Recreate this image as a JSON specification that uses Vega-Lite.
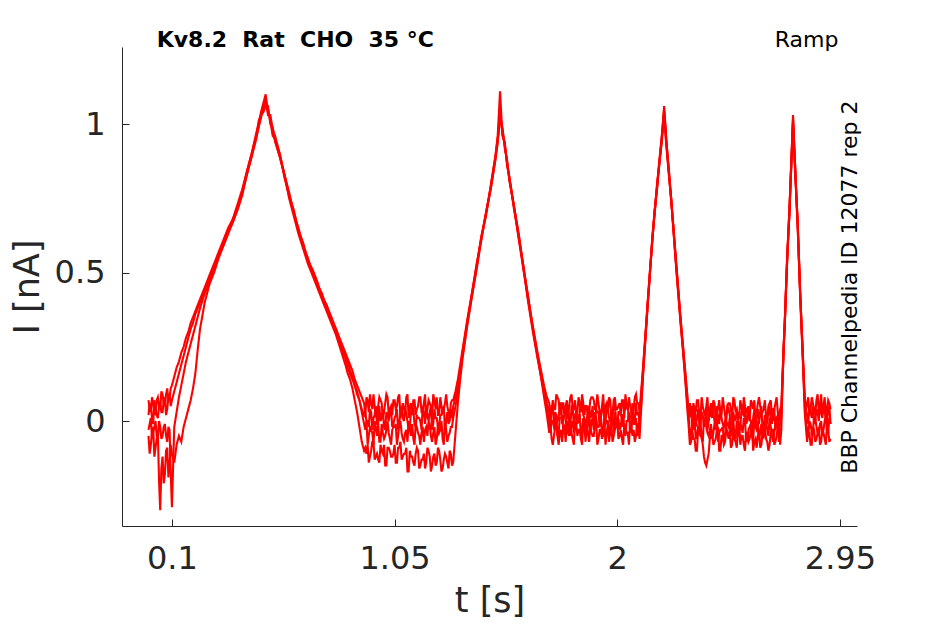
{
"$schema":"https://vega.github.io/schema/vega-lite/v6.json",
"width":735,"height":479,
"autosize":"none",
"padding":{"left":122,"top":47,"right":88,"bottom":98},
"background":"white",
"config":{"view":{"stroke":null},"font":"DejaVu Sans"},
"layer":[
{
"data":{"values":[
{"t":0,"a":0.07,"b":0.02,"c":-0.03,"d":-0.05},
{"t":0.01,"a":0.03,"b":0.05,"c":0.01,"d":-0.08},
{"t":0.02,"a":0.06,"b":-0.01,"c":-0.04,"d":-0.02},
{"t":0.03,"a":0.02,"b":0.04,"c":0,"d":-0.09},
{"t":0.04,"a":0.08,"b":0.01,"c":-0.06,"d":-0.04},
{"t":0.05,"a":0.04,"b":0.06,"c":-0.02,"d":-0.3},
{"t":0.06,"a":0.09,"b":0.03,"c":-0.05,"d":-0.12},
{"t":0.07,"a":0.05,"b":0.08,"c":-0.01,"d":-0.18},
{"t":0.08,"a":0.11,"b":0.04,"c":-0.07,"d":-0.09},
{"t":0.09,"a":0.08,"b":0.09,"c":-0.03,"d":-0.15},
{"t":0.1,"a":0.12,"b":0.07,"c":-0.29,"d":-0.11},
{"t":0.11,"a":0.15,"b":0.1,"c":-0.02,"d":-0.14},
{"t":0.12,"a":0.18,"b":0.13,"c":0.03,"d":-0.08},
{"t":0.13,"a":0.2,"b":0.16,"c":0.08,"d":-0.05},
{"t":0.14,"a":0.23,"b":0.19,"c":0.12,"d":-0.07},
{"t":0.15,"a":0.25,"b":0.22,"c":0.16,"d":-0.02},
{"t":0.16,"a":0.28,"b":0.25,"c":0.2,"d":0.01},
{"t":0.17,"a":0.3,"b":0.28,"c":0.23,"d":0.04},
{"t":0.18,"a":0.33,"b":0.31,"c":0.26,"d":0.07},
{"t":0.19,"a":0.35,"b":0.33,"c":0.29,"d":0.11},
{"t":0.2,"a":0.37,"b":0.36,"c":0.32,"d":0.16},
{"t":0.21,"a":0.39,"b":0.38,"c":0.35,"d":0.24},
{"t":0.22,"a":0.41,"b":0.4,"c":0.38,"d":0.31},
{"t":0.24,"a":0.45,"b":0.44,"c":0.43,"d":0.4},
{"t":0.26,"a":0.49,"b":0.48,"c":0.47,"d":0.46},
{"t":0.28,"a":0.53,"b":0.52,"c":0.51,"d":0.5},
{"t":0.3,"a":0.57,"b":0.56,"c":0.56,"d":0.55},
{"t":0.32,"a":0.61,"b":0.6,"c":0.6,"d":0.59},
{"t":0.34,"a":0.65,"b":0.64,"c":0.64,"d":0.63},
{"t":0.36,"a":0.68,"b":0.68,"c":0.67,"d":0.67},
{"t":0.38,"a":0.73,"b":0.72,"c":0.72,"d":0.71},
{"t":0.4,"a":0.78,"b":0.77,"c":0.77,"d":0.76},
{"t":0.42,"a":0.84,"b":0.84,"c":0.83,"d":0.83},
{"t":0.44,"a":0.9,"b":0.9,"c":0.89,"d":0.89},
{"t":0.46,"a":0.97,"b":0.96,"c":0.96,"d":0.95},
{"t":0.47,"a":1,"b":1.01,"c":0.99,"d":0.99},
{"t":0.48,"a":1.04,"b":1.03,"c":1.02,"d":1.03},
{"t":0.49,"a":1.07,"b":1.05,"c":1.06,"d":1.04},
{"t":0.5,"a":1.1,"b":1.07,"c":1.08,"d":1.06},
{"t":0.51,"a":1.04,"b":1.06,"c":1.03,"d":1.05},
{"t":0.52,"a":1.02,"b":1,"c":1.03,"d":1.01},
{"t":0.53,"a":0.97,"b":0.99,"c":0.98,"d":0.96},
{"t":0.54,"a":0.95,"b":0.94,"c":0.96,"d":0.95},
{"t":0.56,"a":0.9,"b":0.89,"c":0.9,"d":0.89},
{"t":0.58,"a":0.83,"b":0.83,"c":0.82,"d":0.83},
{"t":0.6,"a":0.76,"b":0.77,"c":0.76,"d":0.75},
{"t":0.62,"a":0.7,"b":0.7,"c":0.71,"d":0.69},
{"t":0.64,"a":0.64,"b":0.65,"c":0.64,"d":0.63},
{"t":0.66,"a":0.59,"b":0.59,"c":0.6,"d":0.58},
{"t":0.68,"a":0.54,"b":0.55,"c":0.54,"d":0.53},
{"t":0.7,"a":0.5,"b":0.5,"c":0.51,"d":0.49},
{"t":0.72,"a":0.46,"b":0.46,"c":0.47,"d":0.45},
{"t":0.74,"a":0.42,"b":0.43,"c":0.42,"d":0.41},
{"t":0.76,"a":0.39,"b":0.38,"c":0.39,"d":0.37},
{"t":0.78,"a":0.35,"b":0.35,"c":0.34,"d":0.33},
{"t":0.8,"a":0.31,"b":0.3,"c":0.31,"d":0.29},
{"t":0.82,"a":0.27,"b":0.25,"c":0.26,"d":0.24},
{"t":0.84,"a":0.23,"b":0.21,"c":0.22,"d":0.19},
{"t":0.85,"a":0.21,"b":0.18,"c":0.2,"d":0.16},
{"t":0.86,"a":0.19,"b":0.16,"c":0.17,"d":0.14},
{"t":0.87,"a":0.17,"b":0.14,"c":0.15,"d":0.11},
{"t":0.88,"a":0.14,"b":0.12,"c":0.12,"d":0.07},
{"t":0.89,"a":0.12,"b":0.09,"c":0.1,"d":0.03},
{"t":0.9,"a":0.1,"b":0.07,"c":0.07,"d":-0.02},
{"t":0.91,"a":0.08,"b":0.04,"c":0.03,"d":-0.07},
{"t":0.92,"a":0.06,"b":0.02,"c":-0.01,"d":-0.1},
{"t":0.93,"a":0.08,"b":0,"c":0,"d":-0.11},
{"t":0.94,"a":0.03,"b":-0.02,"c":-0.05,"d":-0.14},
{"t":0.95,"a":0.06,"b":0.03,"c":-0.03,"d":-0.1},
{"t":0.96,"a":0.09,"b":0.01,"c":-0.08,"d":-0.07},
{"t":0.97,"a":0.02,"b":0.05,"c":-0.02,"d":-0.12},
{"t":0.98,"a":0.05,"b":-0.01,"c":-0.01,"d":-0.13},
{"t":0.99,"a":0.07,"b":0,"c":-0.07,"d":-0.08},
{"t":1,"a":0.01,"b":0.04,"c":-0.04,"d":-0.11},
{"t":1.01,"a":0.06,"b":-0.03,"c":-0.05,"d":-0.15},
{"t":1.02,"a":0.08,"b":0.02,"c":0,"d":-0.09},
{"t":1.03,"a":0.04,"b":0.03,"c":-0.06,"d":-0.1},
{"t":1.04,"a":0.02,"b":-0.02,"c":-0.03,"d":-0.12},
{"t":1.05,"a":0.07,"b":0.01,"c":-0.02,"d":-0.08},
{"t":1.06,"a":0.05,"b":0.04,"c":-0.08,"d":-0.14},
{"t":1.07,"a":0.09,"b":-0.01,"c":-0.01,"d":-0.09},
{"t":1.08,"a":0.03,"b":0.05,"c":-0.04,"d":-0.13},
{"t":1.09,"a":0.04,"b":0,"c":-0.07,"d":-0.11},
{"t":1.1,"a":0.08,"b":0.02,"c":-0.03,"d":-0.09},
{"t":1.11,"a":0.01,"b":-0.03,"c":0,"d":-0.17},
{"t":1.12,"a":0.06,"b":0.03,"c":-0.05,"d":-0.12},
{"t":1.13,"a":0.07,"b":0.04,"c":-0.06,"d":-0.14},
{"t":1.14,"a":0.02,"b":-0.02,"c":-0.01,"d":-0.11},
{"t":1.15,"a":0.05,"b":0.01,"c":-0.04,"d":-0.1},
{"t":1.16,"a":0.08,"b":0,"c":-0.08,"d":-0.15},
{"t":1.17,"a":0.03,"b":0.05,"c":-0.02,"d":-0.13},
{"t":1.18,"a":0.09,"b":-0.01,"c":-0.03,"d":-0.16},
{"t":1.19,"a":0.04,"b":0.02,"c":-0.05,"d":-0.09},
{"t":1.2,"a":0.06,"b":0.03,"c":-0.01,"d":-0.12},
{"t":1.21,"a":0.01,"b":-0.03,"c":-0.07,"d":-0.15},
{"t":1.22,"a":0.07,"b":0.04,"c":-0.02,"d":-0.11},
{"t":1.23,"a":0.08,"b":0.01,"c":-0.06,"d":-0.14},
{"t":1.24,"a":0.02,"b":-0.02,"c":-0.04,"d":-0.1},
{"t":1.25,"a":0.05,"b":0.02,"c":0,"d":-0.17},
{"t":1.26,"a":0.04,"b":0.05,"c":-0.08,"d":-0.13},
{"t":1.27,"a":0.09,"b":0,"c":-0.03,"d":-0.12},
{"t":1.28,"a":0.03,"b":-0.01,"c":-0.05,"d":-0.16},
{"t":1.29,"a":0.06,"b":0.04,"c":-0.02,"d":-0.11},
{"t":1.3,"a":0.07,"b":0.05,"c":0.01,"d":-0.14},
{"t":1.31,"a":0.1,"b":0.08,"c":0.05,"d":-0.04},
{"t":1.32,"a":0.14,"b":0.12,"c":0.1,"d":0.06},
{"t":1.33,"a":0.19,"b":0.17,"c":0.16,"d":0.14},
{"t":1.34,"a":0.24,"b":0.23,"c":0.22,"d":0.21},
{"t":1.36,"a":0.34,"b":0.33,"c":0.33,"d":0.32},
{"t":1.38,"a":0.43,"b":0.43,"c":0.42,"d":0.42},
{"t":1.4,"a":0.52,"b":0.53,"c":0.52,"d":0.51},
{"t":1.42,"a":0.62,"b":0.61,"c":0.62,"d":0.61},
{"t":1.44,"a":0.7,"b":0.7,"c":0.69,"d":0.7},
{"t":1.46,"a":0.79,"b":0.78,"c":0.79,"d":0.78},
{"t":1.47,"a":0.84,"b":0.83,"c":0.84,"d":0.83},
{"t":1.48,"a":0.89,"b":0.88,"c":0.89,"d":0.88},
{"t":1.49,"a":0.95,"b":0.94,"c":0.96,"d":0.94},
{"t":1.5,"a":1.04,"b":1.02,"c":1.11,"d":1.03},
{"t":1.51,"a":0.97,"b":0.99,"c":0.96,"d":0.98},
{"t":1.52,"a":0.93,"b":0.92,"c":0.94,"d":0.93},
{"t":1.53,"a":0.87,"b":0.88,"c":0.86,"d":0.87},
{"t":1.54,"a":0.82,"b":0.81,"c":0.82,"d":0.81},
{"t":1.56,"a":0.72,"b":0.72,"c":0.71,"d":0.72},
{"t":1.58,"a":0.62,"b":0.63,"c":0.62,"d":0.61},
{"t":1.6,"a":0.52,"b":0.51,"c":0.52,"d":0.51},
{"t":1.62,"a":0.41,"b":0.42,"c":0.41,"d":0.4},
{"t":1.64,"a":0.32,"b":0.31,"c":0.31,"d":0.3},
{"t":1.66,"a":0.23,"b":0.22,"c":0.22,"d":0.21},
{"t":1.67,"a":0.19,"b":0.18,"c":0.17,"d":0.17},
{"t":1.68,"a":0.15,"b":0.14,"c":0.13,"d":0.12},
{"t":1.69,"a":0.11,"b":0.1,"c":0.09,"d":0.07},
{"t":1.7,"a":0.08,"b":0.06,"c":0.04,"d":0.02},
{"t":1.71,"a":0.06,"b":0.03,"c":0,"d":-0.04},
{"t":1.72,"a":0.03,"b":0.05,"c":0,"d":-0.06},
{"t":1.73,"a":0.04,"b":-0.01,"c":-0.02,"d":-0.05},
{"t":1.74,"a":0.09,"b":0.02,"c":0.02,"d":-0.01},
{"t":1.75,"a":0.07,"b":0.01,"c":-0.04,"d":-0.08},
{"t":1.76,"a":0.02,"b":0.06,"c":0.01,"d":-0.03},
{"t":1.77,"a":0.06,"b":0,"c":-0.03,"d":-0.02},
{"t":1.78,"a":0.05,"b":0.03,"c":-0.01,"d":-0.07},
{"t":1.79,"a":0.01,"b":0.04,"c":0.03,"d":-0.04},
{"t":1.8,"a":0.08,"b":-0.02,"c":-0.05,"d":-0.01},
{"t":1.81,"a":0.04,"b":0.05,"c":0,"d":-0.06},
{"t":1.82,"a":0.07,"b":0.02,"c":-0.02,"d":0},
{"t":1.83,"a":0.03,"b":-0.01,"c":0.01,"d":-0.05},
{"t":1.84,"a":0.06,"b":0.03,"c":0.02,"d":-0.03},
{"t":1.85,"a":0.09,"b":0.06,"c":-0.03,"d":-0.08},
{"t":1.86,"a":0.02,"b":0.01,"c":-0.01,"d":-0.02},
{"t":1.87,"a":0.05,"b":0,"c":-0.04,"d":-0.01},
{"t":1.88,"a":0.03,"b":0.05,"c":0.03,"d":-0.07},
{"t":1.89,"a":0.08,"b":0.02,"c":0,"d":-0.04},
{"t":1.9,"a":0.07,"b":-0.02,"c":-0.03,"d":-0.05},
{"t":1.91,"a":0.04,"b":0.04,"c":0.01,"d":0},
{"t":1.92,"a":0.06,"b":0.03,"c":-0.02,"d":-0.06},
{"t":1.93,"a":0.01,"b":0.01,"c":0.02,"d":-0.03},
{"t":1.94,"a":0.09,"b":0.05,"c":-0.05,"d":-0.02},
{"t":1.95,"a":0.05,"b":-0.01,"c":-0.01,"d":-0.08},
{"t":1.96,"a":0.03,"b":0.04,"c":0,"d":-0.01},
{"t":1.97,"a":0.07,"b":0,"c":-0.04,"d":-0.04},
{"t":1.98,"a":0.02,"b":0.02,"c":0.01,"d":-0.07},
{"t":1.99,"a":0.08,"b":0.06,"c":0.03,"d":-0.03},
{"t":2,"a":0.04,"b":-0.02,"c":-0.02,"d":0},
{"t":2.01,"a":0.06,"b":0.03,"c":-0.03,"d":-0.05},
{"t":2.02,"a":0.07,"b":0.01,"c":0.02,"d":-0.06},
{"t":2.03,"a":0.01,"b":0.04,"c":-0.03,"d":-0.01},
{"t":2.04,"a":0.05,"b":0.05,"c":0,"d":-0.04},
{"t":2.05,"a":0.08,"b":0,"c":0.03,"d":-0.08},
{"t":2.06,"a":0.03,"b":0.02,"c":-0.04,"d":-0.02},
{"t":2.07,"a":0.04,"b":-0.01,"c":-0.01,"d":-0.03},
{"t":2.08,"a":0.09,"b":0.06,"c":0.01,"d":-0.05},
{"t":2.09,"a":0.06,"b":0.03,"c":-0.05,"d":-0.01},
{"t":2.1,"a":0.08,"b":0.06,"c":0.03,"d":0.01},
{"t":2.11,"a":0.18,"b":0.17,"c":0.16,"d":0.15},
{"t":2.12,"a":0.29,"b":0.28,"c":0.28,"d":0.27},
{"t":2.13,"a":0.4,"b":0.4,"c":0.39,"d":0.39},
{"t":2.14,"a":0.51,"b":0.51,"c":0.5,"d":0.5},
{"t":2.15,"a":0.62,"b":0.61,"c":0.62,"d":0.61},
{"t":2.16,"a":0.71,"b":0.71,"c":0.7,"d":0.71},
{"t":2.17,"a":0.79,"b":0.79,"c":0.8,"d":0.78},
{"t":2.18,"a":0.87,"b":0.88,"c":0.87,"d":0.87},
{"t":2.19,"a":0.95,"b":0.96,"c":0.95,"d":0.94},
{"t":2.2,"a":1.05,"b":1.04,"c":1.06,"d":1.03},
{"t":2.21,"a":0.94,"b":0.93,"c":0.94,"d":0.92},
{"t":2.22,"a":0.84,"b":0.85,"c":0.84,"d":0.83},
{"t":2.23,"a":0.75,"b":0.75,"c":0.74,"d":0.75},
{"t":2.24,"a":0.65,"b":0.64,"c":0.65,"d":0.64},
{"t":2.25,"a":0.55,"b":0.54,"c":0.54,"d":0.53},
{"t":2.26,"a":0.45,"b":0.44,"c":0.44,"d":0.43},
{"t":2.27,"a":0.35,"b":0.34,"c":0.34,"d":0.33},
{"t":2.28,"a":0.26,"b":0.25,"c":0.25,"d":0.24},
{"t":2.29,"a":0.17,"b":0.16,"c":0.15,"d":0.14},
{"t":2.3,"a":0.08,"b":0.06,"c":0.05,"d":0.03},
{"t":2.31,"a":0.06,"b":0.02,"c":-0.04,"d":-0.08},
{"t":2.32,"a":0.01,"b":-0.03,"c":-0.01,"d":-0.03},
{"t":2.33,"a":0.04,"b":0.05,"c":0,"d":-0.06},
{"t":2.34,"a":0.07,"b":0.01,"c":-0.05,"d":-0.1},
{"t":2.35,"a":0.02,"b":-0.01,"c":-0.03,"d":-0.04},
{"t":2.36,"a":0.08,"b":0.03,"c":-0.06,"d":-0.05},
{"t":2.37,"a":0.03,"b":-0.02,"c":0.01,"d":-0.12},
{"t":2.38,"a":0.05,"b":0.04,"c":-0.02,"d":-0.15},
{"t":2.39,"a":0,"b":0,"c":-0.05,"d":-0.11},
{"t":2.4,"a":0.06,"b":0.02,"c":-0.01,"d":-0.04},
{"t":2.41,"a":0.07,"b":0.03,"c":-0.04,"d":-0.08},
{"t":2.42,"a":0.01,"b":-0.03,"c":0,"d":-0.06},
{"t":2.43,"a":0.04,"b":0.01,"c":-0.07,"d":-0.02},
{"t":2.44,"a":0.03,"b":0.04,"c":-0.03,"d":-0.1},
{"t":2.45,"a":0.08,"b":-0.01,"c":-0.02,"d":-0.05},
{"t":2.46,"a":0.02,"b":0,"c":-0.06,"d":-0.07},
{"t":2.47,"a":0.05,"b":0.05,"c":-0.01,"d":-0.04},
{"t":2.48,"a":0.06,"b":0.02,"c":0.01,"d":-0.03},
{"t":2.49,"a":0,"b":-0.02,"c":-0.04,"d":-0.08},
{"t":2.5,"a":0.07,"b":0.01,"c":-0.05,"d":-0.06},
{"t":2.51,"a":0.04,"b":0.04,"c":0,"d":-0.09},
{"t":2.52,"a":0.01,"b":-0.03,"c":-0.05,"d":-0.02},
{"t":2.53,"a":0.05,"b":0.03,"c":-0.02,"d":-0.05},
{"t":2.54,"a":0.08,"b":0.02,"c":0.01,"d":-0.08},
{"t":2.55,"a":0.03,"b":-0.01,"c":-0.06,"d":-0.04},
{"t":2.56,"a":0.02,"b":0.05,"c":-0.03,"d":-0.07},
{"t":2.57,"a":0.07,"b":0,"c":-0.01,"d":-0.03},
{"t":2.58,"a":0.04,"b":0.01,"c":-0.07,"d":-0.1},
{"t":2.59,"a":0,"b":-0.02,"c":-0.02,"d":-0.06},
{"t":2.6,"a":0.06,"b":0.04,"c":0,"d":-0.05},
{"t":2.61,"a":0.05,"b":0.03,"c":-0.04,"d":-0.09},
{"t":2.62,"a":0.03,"b":-0.03,"c":-0.06,"d":-0.04},
{"t":2.63,"a":0.07,"b":0.02,"c":-0.01,"d":-0.02},
{"t":2.64,"a":0.01,"b":0,"c":-0.03,"d":-0.07},
{"t":2.65,"a":0.06,"b":0.05,"c":0.01,"d":-0.08},
{"t":2.66,"a":0.02,"b":-0.01,"c":-0.05,"d":-0.03},
{"t":2.67,"a":0.04,"b":0.04,"c":-0.04,"d":-0.08},
{"t":2.68,"a":0.08,"b":0.01,"c":0,"d":-0.05},
{"t":2.69,"a":0,"b":-0.02,"c":-0.07,"d":-0.02},
{"t":2.7,"a":0.05,"b":0.03,"c":0.01,"d":-0.03},
{"t":2.705,"a":0.15,"b":0.14,"c":0.13,"d":0.12},
{"t":2.71,"a":0.25,"b":0.25,"c":0.24,"d":0.24},
{"t":2.715,"a":0.34,"b":0.34,"c":0.33,"d":0.33},
{"t":2.72,"a":0.45,"b":0.44,"c":0.44,"d":0.43},
{"t":2.725,"a":0.55,"b":0.55,"c":0.54,"d":0.54},
{"t":2.73,"a":0.64,"b":0.63,"c":0.63,"d":0.62},
{"t":2.735,"a":0.72,"b":0.71,"c":0.71,"d":0.7},
{"t":2.74,"a":0.82,"b":0.81,"c":0.82,"d":0.81},
{"t":2.745,"a":0.92,"b":0.91,"c":0.92,"d":0.9},
{"t":2.75,"a":1.03,"b":1.01,"c":1.02,"d":1},
{"t":2.755,"a":0.93,"b":0.92,"c":0.93,"d":0.91},
{"t":2.76,"a":0.84,"b":0.83,"c":0.84,"d":0.82},
{"t":2.765,"a":0.75,"b":0.75,"c":0.74,"d":0.74},
{"t":2.77,"a":0.67,"b":0.66,"c":0.66,"d":0.65},
{"t":2.775,"a":0.56,"b":0.55,"c":0.55,"d":0.54},
{"t":2.78,"a":0.45,"b":0.44,"c":0.44,"d":0.43},
{"t":2.785,"a":0.35,"b":0.35,"c":0.34,"d":0.33},
{"t":2.79,"a":0.26,"b":0.26,"c":0.25,"d":0.24},
{"t":2.795,"a":0.17,"b":0.16,"c":0.15,"d":0.14},
{"t":2.8,"a":0.08,"b":0.07,"c":0.05,"d":0.03},
{"t":2.81,"a":0.06,"b":0.02,"c":-0.03,"d":-0.07},
{"t":2.82,"a":0.02,"b":0.05,"c":0,"d":-0.04},
{"t":2.83,"a":0.08,"b":0.01,"c":-0.04,"d":-0.08},
{"t":2.84,"a":0.04,"b":-0.01,"c":0.01,"d":-0.03},
{"t":2.85,"a":0.07,"b":0.04,"c":-0.02,"d":-0.06},
{"t":2.86,"a":0.03,"b":0,"c":-0.05,"d":-0.02},
{"t":2.87,"a":0.09,"b":0.03,"c":0,"d":-0.07},
{"t":2.88,"a":0.05,"b":0.06,"c":-0.03,"d":-0.04},
{"t":2.89,"a":0.02,"b":0.01,"c":0.02,"d":-0.08},
{"t":2.9,"a":0.07,"b":0.04,"c":-0.04,"d":-0.03},
{"t":2.91,"a":0.04,"b":-0.01,"c":-0.01,"d":-0.06},
{"t":0.005,"a":0.04,"b":0.06,"c":-0.01,"d":-0.11},
{"t":0.015,"a":0.08,"b":0.01,"c":-0.06,"d":-0.04},
{"t":0.025,"a":0.03,"b":0.07,"c":-0.02,"d":-0.12},
{"t":0.035,"a":0.07,"b":0.02,"c":-0.05,"d":-0.06},
{"t":0.045,"a":0.05,"b":0.05,"c":0,"d":-0.2},
{"t":0.055,"a":0.1,"b":0.03,"c":-0.06,"d":-0.16},
{"t":0.065,"a":0.06,"b":0.07,"c":-0.02,"d":-0.21},
{"t":0.075,"a":0.09,"b":0.02,"c":-0.05,"d":-0.1},
{"t":0.085,"a":0.07,"b":0.08,"c":-0.02,"d":-0.19},
{"t":0.095,"a":0.11,"b":0.05,"c":-0.18,"d":-0.08},
{"t":0.925,"a":0.02,"b":0.03,"c":-0.03,"d":-0.09},
{"t":0.935,"a":0.07,"b":0,"c":-0.08,"d":-0.08},
{"t":0.945,"a":0.09,"b":0.04,"c":-0.02,"d":-0.12},
{"t":0.955,"a":0.04,"b":-0.03,"c":-0.04,"d":-0.07},
{"t":0.965,"a":0.05,"b":0.02,"c":0,"d":-0.13},
{"t":0.975,"a":0.01,"b":-0.01,"c":-0.05,"d":-0.11},
{"t":0.985,"a":0.08,"b":0.05,"c":-0.07,"d":-0.14},
{"t":0.995,"a":0.06,"b":0.01,"c":-0.01,"d":-0.1},
{"t":1.005,"a":0.03,"b":-0.02,"c":-0.06,"d":-0.08},
{"t":1.015,"a":0.09,"b":0.03,"c":-0.03,"d":-0.15},
{"t":1.025,"a":0.02,"b":0,"c":-0.04,"d":-0.09},
{"t":1.035,"a":0.05,"b":0.04,"c":-0.08,"d":-0.12},
{"t":1.045,"a":0.07,"b":-0.01,"c":-0.02,"d":-0.11},
{"t":1.055,"a":0.04,"b":0.02,"c":-0.01,"d":-0.14},
{"t":1.065,"a":0.08,"b":-0.03,"c":-0.05,"d":-0.09},
{"t":1.075,"a":0.01,"b":0.03,"c":0,"d":-0.07},
{"t":1.085,"a":0.06,"b":0.01,"c":-0.06,"d":-0.12},
{"t":1.095,"a":0.03,"b":0.05,"c":-0.04,"d":-0.11},
{"t":1.105,"a":0.09,"b":0,"c":-0.07,"d":-0.17},
{"t":1.115,"a":0.05,"b":-0.02,"c":-0.03,"d":-0.1},
{"t":1.125,"a":0.02,"b":0.04,"c":-0.01,"d":-0.12},
{"t":1.135,"a":0.07,"b":-0.01,"c":-0.08,"d":-0.15},
{"t":1.145,"a":0.04,"b":0.02,"c":-0.02,"d":-0.09},
{"t":1.155,"a":0.08,"b":0.01,"c":-0.05,"d":-0.16},
{"t":1.165,"a":0.03,"b":-0.03,"c":-0.04,"d":-0.13},
{"t":1.175,"a":0.06,"b":0.03,"c":-0.07,"d":-0.11},
{"t":1.185,"a":0.01,"b":0.04,"c":-0.02,"d":-0.14},
{"t":1.195,"a":0.07,"b":0,"c":0,"d":-0.1},
{"t":1.205,"a":0.05,"b":0.05,"c":-0.05,"d":-0.17},
{"t":1.215,"a":0.09,"b":-0.01,"c":-0.04,"d":-0.12},
{"t":1.225,"a":0.04,"b":0.01,"c":-0.08,"d":-0.15},
{"t":1.235,"a":0.02,"b":-0.02,"c":-0.01,"d":-0.09},
{"t":1.245,"a":0.08,"b":0.02,"c":-0.03,"d":-0.13},
{"t":1.255,"a":0.03,"b":0.04,"c":-0.06,"d":-0.16},
{"t":1.265,"a":0.06,"b":-0.03,"c":0,"d":-0.11},
{"t":1.275,"a":0.05,"b":0.03,"c":-0.07,"d":-0.14},
{"t":1.285,"a":0.01,"b":0,"c":-0.04,"d":-0.1},
{"t":1.295,"a":0.07,"b":0.01,"c":-0.02,"d":-0.15},
{"t":1.715,"a":0.02,"b":-0.02,"c":-0.03,"d":-0.01},
{"t":1.725,"a":0.07,"b":0.05,"c":0,"d":-0.08},
{"t":1.735,"a":0.04,"b":0.03,"c":-0.01,"d":-0.02},
{"t":1.745,"a":0.08,"b":0,"c":-0.05,"d":-0.05},
{"t":1.755,"a":0.03,"b":0.06,"c":0.01,"d":-0.04},
{"t":1.765,"a":0.06,"b":-0.01,"c":0.02,"d":-0.07},
{"t":1.775,"a":0.01,"b":0.02,"c":-0.02,"d":-0.02},
{"t":1.785,"a":0.07,"b":0.04,"c":0.03,"d":0},
{"t":1.795,"a":0.05,"b":0.01,"c":-0.03,"d":-0.05},
{"t":1.805,"a":0.09,"b":0.05,"c":-0.01,"d":-0.04},
{"t":1.815,"a":0.04,"b":-0.02,"c":-0.04,"d":-0.08},
{"t":1.825,"a":0.02,"b":0.03,"c":0,"d":-0.01},
{"t":1.835,"a":0.08,"b":0,"c":0.02,"d":-0.03},
{"t":1.845,"a":0.03,"b":0.06,"c":-0.05,"d":-0.06},
{"t":1.855,"a":0.06,"b":0.02,"c":0.01,"d":0},
{"t":1.865,"a":0.05,"b":-0.01,"c":-0.02,"d":-0.07},
{"t":1.875,"a":0.01,"b":0.04,"c":-0.01,"d":-0.04},
{"t":1.885,"a":0.07,"b":0.01,"c":-0.04,"d":-0.02},
{"t":1.895,"a":0.08,"b":0.05,"c":0.01,"d":-0.05},
{"t":1.905,"a":0.04,"b":0,"c":0.03,"d":-0.01},
{"t":1.915,"a":0.09,"b":0.03,"c":-0.02,"d":-0.08},
{"t":1.925,"a":0.03,"b":-0.02,"c":-0.01,"d":-0.03},
{"t":1.935,"a":0.05,"b":0.04,"c":-0.05,"d":-0.06},
{"t":1.945,"a":0.02,"b":0.02,"c":0.02,"d":0},
{"t":1.955,"a":0.06,"b":0.06,"c":0,"d":-0.04},
{"t":1.965,"a":0.08,"b":0.01,"c":-0.03,"d":-0.07},
{"t":1.975,"a":0.01,"b":-0.01,"c":0.03,"d":-0.02},
{"t":1.985,"a":0.07,"b":0.05,"c":-0.04,"d":-0.05},
{"t":1.995,"a":0.04,"b":0,"c":-0.01,"d":-0.01},
{"t":2.005,"a":0.05,"b":0.03,"c":0.01,"d":-0.06},
{"t":2.015,"a":0.02,"b":0.02,"c":-0.02,"d":-0.03},
{"t":2.025,"a":0.07,"b":-0.02,"c":0.02,"d":-0.08},
{"t":2.035,"a":0.09,"b":0.04,"c":-0.05,"d":-0.02},
{"t":2.045,"a":0.04,"b":0.05,"c":0,"d":-0.04},
{"t":2.055,"a":0.05,"b":0.01,"c":-0.03,"d":0},
{"t":2.065,"a":0.01,"b":0.06,"c":0.03,"d":-0.05},
{"t":2.075,"a":0.08,"b":0,"c":-0.01,"d":-0.07},
{"t":2.085,"a":0.06,"b":0.02,"c":-0.04,"d":-0.01},
{"t":2.095,"a":0.03,"b":-0.01,"c":0.01,"d":-0.06},
{"t":2.305,"a":0.01,"b":0.01,"c":0.01,"d":-0.02},
{"t":2.315,"a":0.04,"b":0.05,"c":-0.05,"d":-0.07},
{"t":2.325,"a":0.06,"b":0,"c":-0.03,"d":-0.06},
{"t":2.335,"a":0.03,"b":-0.02,"c":-0.06,"d":-0.1},
{"t":2.345,"a":0.07,"b":0.04,"c":-0.02,"d":-0.03},
{"t":2.355,"a":0,"b":-0.01,"c":0,"d":-0.05},
{"t":2.365,"a":0.05,"b":0.02,"c":-0.07,"d":-0.08},
{"t":2.375,"a":0.02,"b":0.01,"c":-0.01,"d":-0.14},
{"t":2.385,"a":0.08,"b":-0.03,"c":-0.04,"d":-0.13},
{"t":2.395,"a":0.04,"b":0.03,"c":-0.03,"d":-0.06},
{"t":2.405,"a":0.01,"b":0.04,"c":-0.06,"d":-0.04},
{"t":2.415,"a":0.06,"b":0,"c":-0.01,"d":-0.07},
{"t":2.425,"a":0.03,"b":0.05,"c":0.01,"d":-0.03},
{"t":2.435,"a":0.07,"b":-0.01,"c":-0.04,"d":-0.1},
{"t":2.445,"a":0.02,"b":0.01,"c":-0.03,"d":-0.05},
{"t":2.455,"a":0.05,"b":-0.02,"c":-0.07,"d":-0.08},
{"t":2.465,"a":0,"b":0.02,"c":0,"d":-0.02},
{"t":2.475,"a":0.06,"b":0.04,"c":-0.02,"d":-0.06},
{"t":2.485,"a":0.04,"b":-0.03,"c":-0.05,"d":-0.09},
{"t":2.495,"a":0.08,"b":0.03,"c":0.01,"d":-0.04},
{"t":2.505,"a":0.03,"b":0,"c":-0.06,"d":-0.07},
{"t":2.515,"a":0.01,"b":0.01,"c":-0.03,"d":-0.03},
{"t":2.525,"a":0.07,"b":-0.02,"c":-0.01,"d":-0.08},
{"t":2.535,"a":0.02,"b":0.03,"c":-0.04,"d":-0.05},
{"t":2.545,"a":0.05,"b":0.05,"c":0,"d":-0.1},
{"t":2.555,"a":0.04,"b":0,"c":-0.07,"d":-0.04},
{"t":2.565,"a":0,"b":0.01,"c":-0.02,"d":-0.06},
{"t":2.575,"a":0.06,"b":-0.03,"c":-0.05,"d":-0.02},
{"t":2.585,"a":0.07,"b":0.04,"c":0.01,"d":-0.07},
{"t":2.595,"a":0.03,"b":0.02,"c":-0.03,"d":-0.09},
{"t":2.605,"a":0.08,"b":-0.01,"c":-0.06,"d":-0.03},
{"t":2.615,"a":0.02,"b":0.05,"c":-0.01,"d":-0.08},
{"t":2.625,"a":0.04,"b":-0.02,"c":-0.04,"d":-0.05},
{"t":2.635,"a":0.01,"b":0.01,"c":0,"d":-0.06},
{"t":2.645,"a":0.05,"b":0.03,"c":-0.05,"d":-0.1},
{"t":2.655,"a":0.07,"b":0,"c":-0.02,"d":-0.04},
{"t":2.665,"a":0,"b":0.04,"c":-0.07,"d":-0.03},
{"t":2.675,"a":0.06,"b":-0.03,"c":-0.01,"d":-0.07},
{"t":2.685,"a":0.03,"b":0.02,"c":-0.03,"d":-0.02},
{"t":2.695,"a":0.04,"b":-0.01,"c":0.01,"d":-0.08},
{"t":2.805,"a":0.03,"b":0.04,"c":0,"d":-0.02},
{"t":2.815,"a":0.08,"b":-0.01,"c":-0.05,"d":-0.04},
{"t":2.825,"a":0.04,"b":0.03,"c":-0.01,"d":-0.08},
{"t":2.835,"a":0.06,"b":0.05,"c":-0.03,"d":-0.02},
{"t":2.845,"a":0.02,"b":0,"c":0.01,"d":-0.07},
{"t":2.855,"a":0.09,"b":0.03,"c":-0.04,"d":-0.04},
{"t":2.865,"a":0.05,"b":0.06,"c":-0.01,"d":-0.08},
{"t":2.875,"a":0.02,"b":0.01,"c":-0.05,"d":-0.03},
{"t":2.885,"a":0.08,"b":0.03,"c":0,"d":-0.06},
{"t":2.895,"a":0.04,"b":-0.01,"c":-0.03,"d":-0.01},
{"t":2.905,"a":0.06,"b":0.05,"c":0.01,"d":-0.07}
]},
"transform":[{"fold":["a","b","c","d"],"as":["rep","I"]}],
"mark":{"type":"line","color":"#ff0000","strokeWidth":2.1,"clip":true},
"encoding":{
"x":{"field":"t","type":"quantitative","scale":{"domain":[-0.113,3.023],"nice":false,"zero":false},
"axis":{"values":[0.1,1.05,2,2.95],"labelExpr":"'' + datum.value","title":"t [s]","grid":false,"tickSize":-7,"labelPadding":24,"labelFontSize":32,"labelFont":"DejaVu Sans","labelColor":"#262626","titleFontSize":35,"titleFont":"DejaVu Sans","titleFontWeight":"normal","titleColor":"#262626","titlePadding":9,"domainColor":"#262626","tickColor":"#262626","labelFlush":false,"labelOverlap":false}},
"y":{"field":"I","type":"quantitative","scale":{"domain":[-0.3535,1.2593],"nice":false,"zero":false},
"axis":{"values":[0,0.5,1],"labelExpr":"'' + datum.value","title":"I [nA]","grid":false,"tickSize":-7,"labelPadding":24,"labelFontSize":32,"labelFont":"DejaVu Sans","labelColor":"#262626","titleFontSize":35,"titleFont":"DejaVu Sans","titleFontWeight":"normal","titleColor":"#262626","titlePadding":9,"domainColor":"#262626","tickColor":"#262626","labelFlush":false,"labelOverlap":false}},
"detail":{"field":"rep"},
"order":{"field":"t","type":"quantitative"}
}
},
{
"data":{"values":[{"label":"Kv8.2 \u00a0Rat \u00a0CHO \u00a035 °C"}]},
"mark":{"type":"text","align":"left","baseline":"alphabetic","fontSize":22,"fontWeight":"bold","font":"DejaVu Sans","color":"#000000"},
"encoding":{"x":{"datum":0.035},"y":{"datum":1.2593},"text":{"field":"label"}}
},
{
"data":{"values":[{"label":"Ramp"}]},
"mark":{"type":"text","align":"right","baseline":"alphabetic","fontSize":22,"font":"DejaVu Sans","color":"#000000"},
"encoding":{"x":{"datum":2.944},"y":{"datum":1.2593},"text":{"field":"label"}}
},
{
"data":{"values":[{"label":"BBP Channelpedia ID 12077 rep 2"}]},
"mark":{"type":"text","align":"center","baseline":"alphabetic","angle":270,"fontSize":22,"font":"DejaVu Sans","color":"#000000"},
"encoding":{"x":{"datum":3.021},"y":{"datum":0.451},"text":{"field":"label"}}
}
]
}
